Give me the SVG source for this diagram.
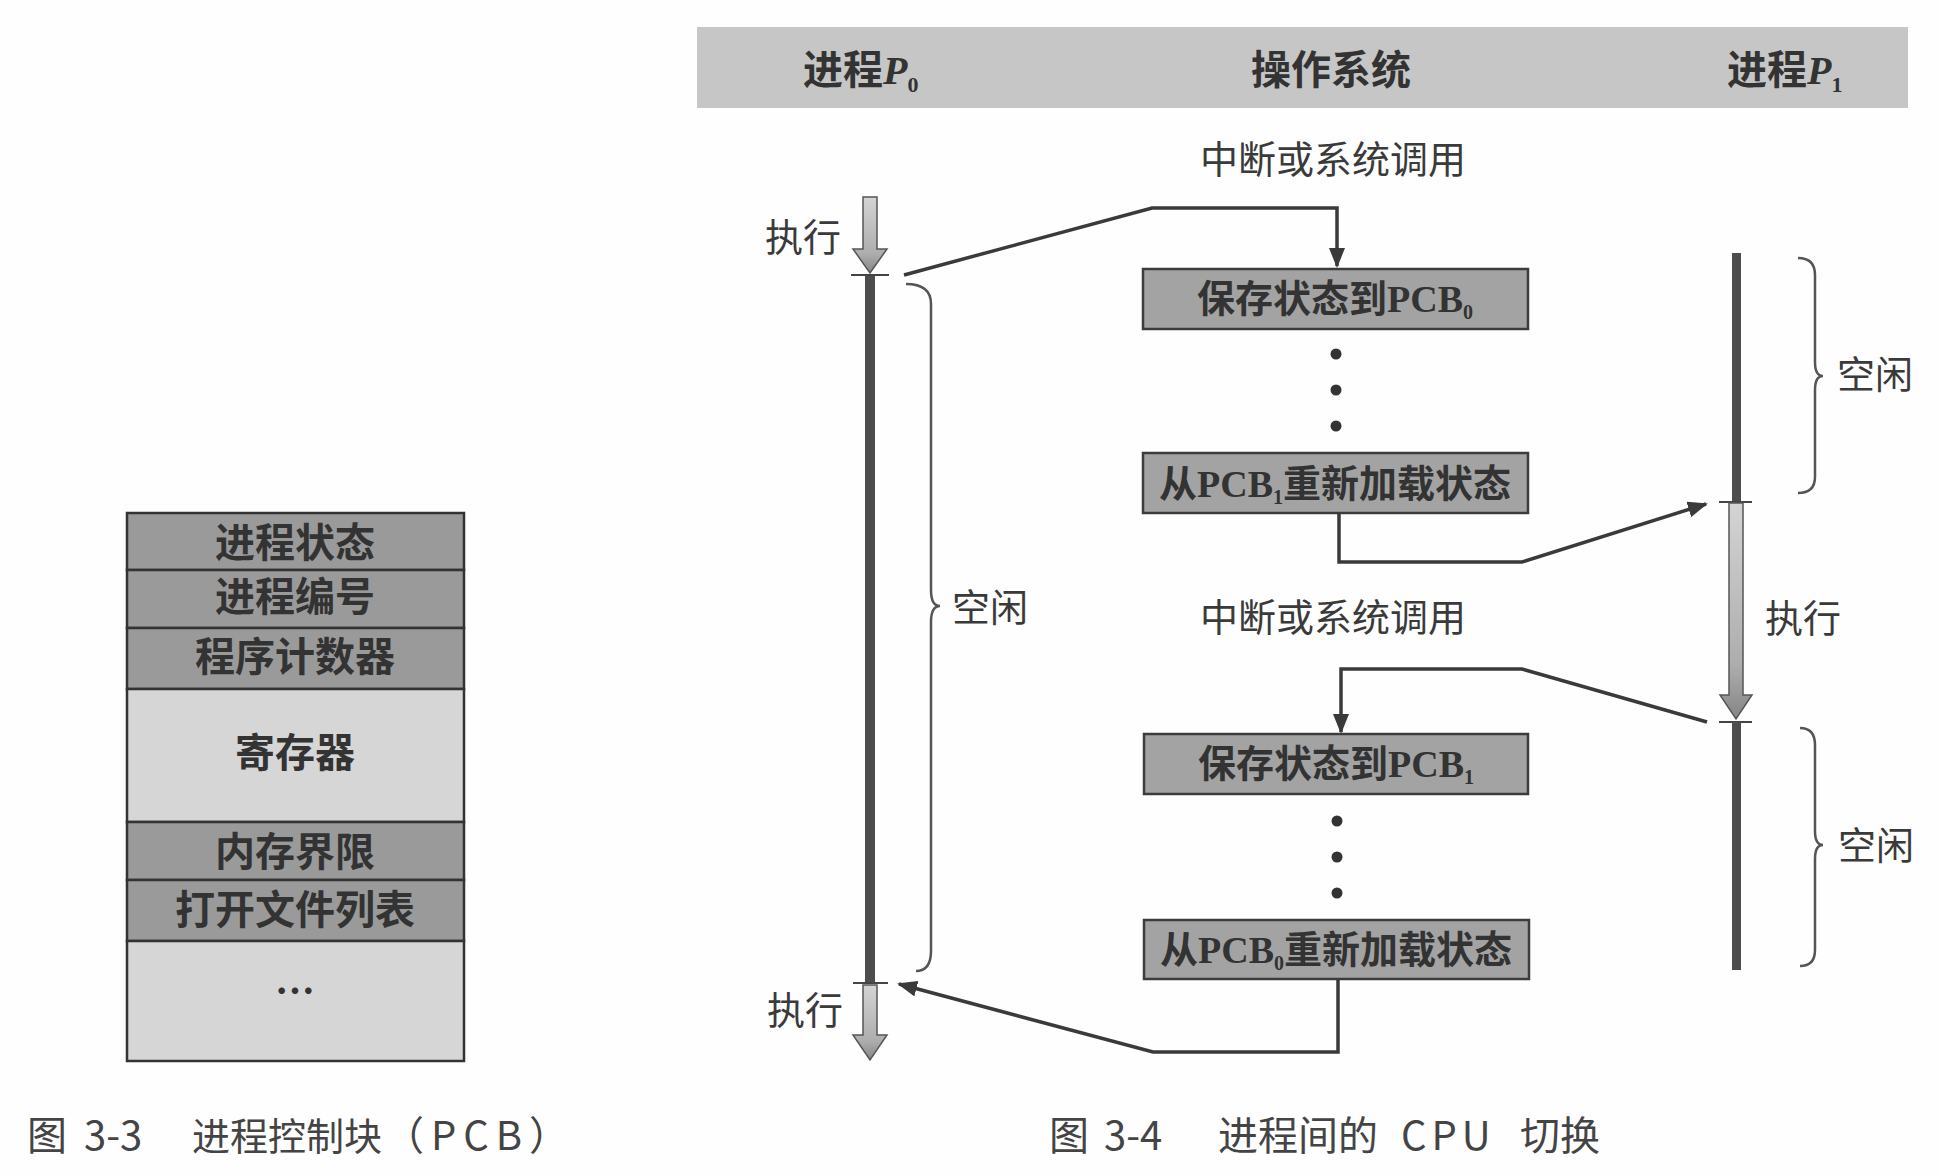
<svg xmlns="http://www.w3.org/2000/svg" width="1939" height="1176" viewBox="0 0 1939 1176">
<defs>
<style>
.cell{stroke:#333;stroke-width:2.5}
.dark{fill:#9a9a9a}
.light{fill:#d6d6d6}
.pcbt{font-family:"Noto Sans CJK SC",sans-serif;font-size:40px;font-weight:600;fill:#333;text-anchor:middle}
.box{fill:#a3a3a3;stroke:#3c3c3c;stroke-width:2.5}
.boxt{font-family:"Liberation Serif","Noto Sans CJK SC",serif;font-size:38px;font-weight:600;fill:#333;text-anchor:middle}
.hdr{font-family:"Liberation Serif","Noto Sans CJK SC",serif;font-size:40px;font-weight:600;fill:#333}
.lbl{font-family:"Noto Sans CJK SC",sans-serif;font-size:38px;fill:#3a3a3a}
.cap{font-family:"Noto Sans CJK SC",sans-serif;font-size:40px;fill:#444}
.tl{fill:#4d4d4d}
.tick{stroke:#444;stroke-width:2}
.exec{fill:url(#g);stroke:#555;stroke-width:1.5}
.brace{fill:none;stroke:#555;stroke-width:2.5}
.conn{fill:none;stroke:#3a3a3a;stroke-width:3.5;stroke-linejoin:miter}
.dot{fill:#333}
</style>
<linearGradient id="g" x1="0" y1="0" x2="0" y2="1">
<stop offset="0" stop-color="#d4d4d4"/>
<stop offset="0.75" stop-color="#adadad"/>
<stop offset="1" stop-color="#858585"/>
</linearGradient>
<marker id="ah" viewBox="0 0 20 16" refX="18" refY="8" markerWidth="20" markerHeight="16" markerUnits="userSpaceOnUse" orient="auto">
<path d="M0,0 L20,8 L0,16 z" fill="#3a3a3a"/>
</marker>
</defs>
<rect width="1939" height="1176" fill="#fefefe"/>

<g id="pcb">
<rect class="cell dark" x="127" y="513" width="337" height="57"/>
<rect class="cell dark" x="127" y="570" width="337" height="58"/>
<rect class="cell dark" x="127" y="628" width="337" height="61"/>
<rect class="cell light" x="127" y="689" width="337" height="133"/>
<rect class="cell dark" x="127" y="822" width="337" height="58"/>
<rect class="cell dark" x="127" y="880" width="337" height="61"/>
<rect class="cell light" x="127" y="941" width="337" height="120"/>
<text class="pcbt" x="295" y="557">进程状态</text>
<text class="pcbt" x="295" y="611">进程编号</text>
<text class="pcbt" x="295" y="671">程序计数器</text>
<text class="pcbt" x="295" y="767">寄存器</text>
<text class="pcbt" x="295" y="866">内存界限</text>
<text class="pcbt" x="295" y="924">打开文件列表</text>
<text class="pcbt" x="295" y="1006" font-weight="normal" font-size="34">…</text>
</g>

<g id="header">
<rect x="697" y="27" width="1211" height="81" fill="#c6c6c6"/>
<text class="hdr" x="803" y="84">进程<tspan font-style="italic">P</tspan><tspan font-size="22" dy="8">0</tspan></text>
<text class="hdr" x="1331" y="84" text-anchor="middle">操作系统</text>
<text class="hdr" x="1727" y="84">进程<tspan font-style="italic">P</tspan><tspan font-size="22" dy="8">1</tspan></text>
</g>

<g id="timeline-p0">
<path class="exec" d="M863,197 L877,197 L877,249 L887,249 L870,273 L853,249 L863,249 Z"/>
<line class="tick" x1="851" y1="275" x2="889" y2="275"/>
<rect class="tl" x="865" y="276" width="10" height="707"/>
<line class="tick" x1="853" y1="983" x2="888" y2="983"/>
<path class="exec" d="M863,985 L877,985 L877,1035 L887,1035 L870,1060 L853,1035 L863,1035 Z"/>
<text class="lbl" x="765" y="251">执行</text>
<text class="lbl" x="767" y="1024">执行</text>
<path class="brace" d="M906,284 Q931,284 931,304 L931,590 Q931,606 940,606 Q931,606 931,622 L931,951 Q931,971 916,971"/>
<text class="lbl" x="952" y="621">空闲</text>
</g>

<g id="timeline-p1">
<rect class="tl" x="1732" y="253" width="9" height="249"/>
<line class="tick" x1="1719" y1="502" x2="1752" y2="502"/>
<path class="exec" d="M1729,503 L1743,503 L1743,695 L1752,695 L1736,719 L1720,695 L1729,695 Z"/>
<line class="tick" x1="1719" y1="722" x2="1752" y2="722"/>
<rect class="tl" x="1732" y="722" width="9" height="248"/>
<text class="lbl" x="1765" y="632">执行</text>
<path class="brace" d="M1798,258 Q1815,258 1815,275 L1815,362 Q1815,376 1823,376 Q1815,376 1815,390 L1815,477 Q1815,493 1798,493"/>
<text class="lbl" x="1837" y="388">空闲</text>
<path class="brace" d="M1800,728 Q1815,728 1815,745 L1815,831 Q1815,845 1823,845 Q1815,845 1815,859 L1815,950 Q1815,966 1800,966"/>
<text class="lbl" x="1838" y="859">空闲</text>
</g>

<g id="os">
<text class="lbl" x="1333" y="173" text-anchor="middle" font-size="39">中断或系统调用</text>
<g id="save-pcb0">
<rect class="box" x="1143" y="269" width="385" height="60"/>
<text class="boxt" x="1335" y="312">保存状态到PCB<tspan font-size="20" dy="7">0</tspan></text>
</g>
<circle class="dot" cx="1336" cy="354" r="5.5"/>
<circle class="dot" cx="1336" cy="390" r="5.5"/>
<circle class="dot" cx="1336" cy="426" r="5.5"/>
<g id="load-pcb1">
<rect class="box" x="1143" y="453" width="385" height="60"/>
<text class="boxt" x="1335" y="497">从PCB<tspan font-size="20" dy="7">1</tspan><tspan dy="-7">重新加载状态</tspan></text>
</g>
<text class="lbl" x="1333" y="631" text-anchor="middle" font-size="39">中断或系统调用</text>
<g id="save-pcb1">
<rect class="box" x="1144" y="734" width="384" height="60"/>
<text class="boxt" x="1336" y="777">保存状态到PCB<tspan font-size="20" dy="7">1</tspan></text>
</g>
<circle class="dot" cx="1337" cy="821" r="5.5"/>
<circle class="dot" cx="1337" cy="857" r="5.5"/>
<circle class="dot" cx="1337" cy="893" r="5.5"/>
<g id="load-pcb0">
<rect class="box" x="1144" y="920" width="385" height="59"/>
<text class="boxt" x="1336" y="963">从PCB<tspan font-size="20" dy="7">0</tspan><tspan dy="-7">重新加载状态</tspan></text>
</g>
</g>

<g id="connectors">
<polyline class="conn" points="904,275 1152,208 1337,208 1337,266" marker-end="url(#ah)"/>
<polyline class="conn" points="1339,513 1339,562 1522,562 1706,504" marker-end="url(#ah)"/>
<polyline class="conn" points="1707,722 1522,669 1341,669 1341,732" marker-end="url(#ah)"/>
<polyline class="conn" points="1338,979 1338,1052 1153,1052 899,984" marker-end="url(#ah)"/>
</g>

<g id="captions">
<text class="cap" y="1150"><tspan x="27">图</tspan><tspan x="84">3-3</tspan><tspan x="192" font-size="38">进程控制块</tspan><tspan x="384" letter-spacing="7">（PCB）</tspan></text>
<text class="cap" y="1150"><tspan x="1049">图</tspan><tspan x="1104">3-4</tspan><tspan x="1218">进程间的</tspan><tspan x="1401" letter-spacing="5">CPU</tspan><tspan x="1520">切换</tspan></text>
</g>
</svg>
